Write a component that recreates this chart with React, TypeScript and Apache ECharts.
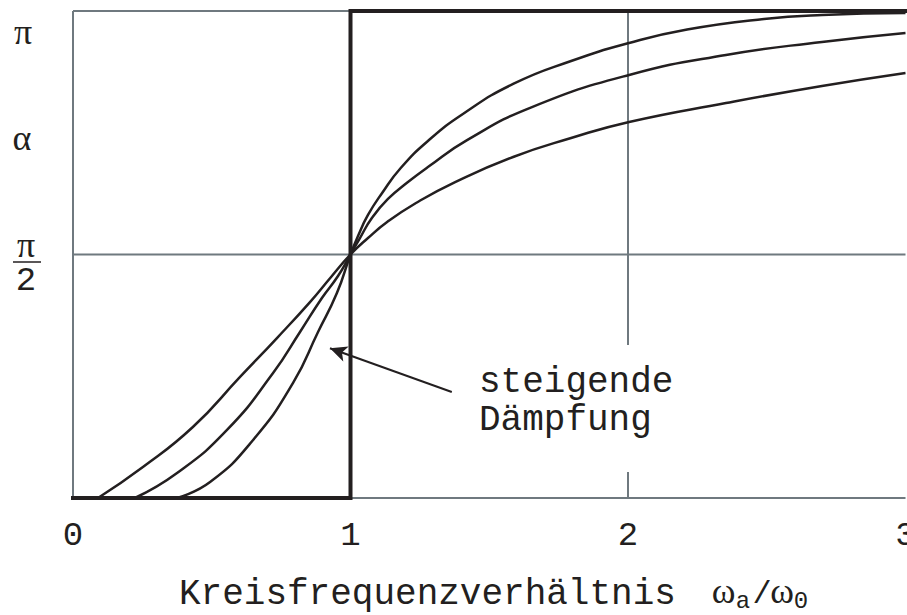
import { useEffect, useRef } from "react";
import * as echarts from "echarts";

const PI = Math.PI;

// Frequency ratio ω_a/ω_0 and phase angle α (rad), weak damping
const weakX = [0.375, 0.494, 0.649, 0.793, 0.883, 0.951, 1, 1.027, 1.063, 1.114, 1.181, 1.279, 1.405, 1.586, 1.795, 2.004, 2.213, 2.49, 2.699, 3.0];
const weakY = [0, 0.103, 0.374, 0.742, 1.071, 1.322, 1.571, 1.69, 1.826, 1.968, 2.129, 2.303, 2.477, 2.671, 2.819, 2.935, 3.022, 3.09, 3.116, 3.129];

// Medium damping
const midX = [0.223, 0.375, 0.555, 0.721, 0.818, 0.897, 0.955, 1, 1.034, 1.077, 1.135, 1.207, 1.279, 1.42, 1.654, 2.004, 2.353, 2.699, 3.0];
const midY = [0, 0.161, 0.439, 0.806, 1.071, 1.29, 1.432, 1.571, 1.677, 1.806, 1.929, 2.038, 2.135, 2.309, 2.522, 2.729, 2.858, 2.942, 3.0];

// Strong damping
const strongX = [0.09, 0.252, 0.432, 0.602, 0.735, 0.854, 0.93, 1, 1.063, 1.132, 1.236, 1.377, 1.586, 1.795, 2.004, 2.353, 2.699, 3.0];
const strongY = [0, 0.2, 0.458, 0.781, 1.032, 1.264, 1.426, 1.571, 1.677, 1.78, 1.903, 2.038, 2.2, 2.322, 2.426, 2.548, 2.658, 2.742];

// Undamped case: phase jumps from 0 to π at resonance
const undampedX = [0, 1, 1, 3];
const undampedY = [0, 0, PI, PI];

// Grid lines and axis range
const gridXValues = [0, 1, 2];
const gridYValues = [0, PI / 2, PI];
const xMin = 0;
const xMax = 3;

// Annotation arrow (data coordinates)
const arrowFrom = [1.365, 0.684];
const arrowTo = [0.926, 0.966];

const INK = "#231f20";
const GRID = "#6f797f";
const MONO = '"Liberation Mono", "Courier New", monospace';
const SERIF = '"Liberation Serif", "Times New Roman", serif';

const zip = (xs: number[], ys: number[]) => xs.map((x, i) => [x, ys[i]]);

export default function App() {
  const ref = useRef<HTMLDivElement>(null);

  useEffect(() => {
    if (!ref.current) return;
    const chart = echarts.init(ref.current, undefined, { renderer: "svg" });

    const gridLine = (data: number[][]) => ({
      type: "line",
      data,
      symbol: "none",
      silent: true,
      clip: false,
      z: 1,
      lineStyle: { color: GRID, width: 2 },
    });

    const gridSeries: any[] = [
      ...gridXValues.map((gx) => gridLine([[gx, 0], [gx, PI]])),
      ...gridYValues.map((gy) => gridLine([[xMin, gy], [xMax, gy]])),
    ];

    const curve = (xs: number[], ys: number[]) => ({
      type: "line",
      data: zip(xs, ys),
      symbol: "none",
      smooth: 0.5,
      silent: true,
      clip: false,
      z: 3,
      lineStyle: { color: INK, width: 2.5 },
    });

    const txt = (
      text: string,
      x: number,
      y: number,
      family: string,
      size: number,
      align = "center"
    ) => ({
      type: "text",
      z: 11,
      x,
      y,
      style: { text, fill: INK, fontFamily: family, fontSize: size, align, verticalAlign: "middle" },
    });

    const option: any = {
      animation: false,
      backgroundColor: "#ffffff",
      grid: {
        left: 73,
        top: 11,
        right: 1.5,
        bottom: 117,
        containLabel: false,
        outerBoundsMode: "none",
      },
      xAxis: {
        type: "value",
        min: xMin,
        max: xMax,
        interval: 1,
        axisLine: { show: false },
        axisTick: { show: false },
        splitLine: { show: false },
        axisLabel: {
          color: INK,
          fontFamily: MONO,
          fontSize: 34,
          margin: 21,
        },
      },
      yAxis: {
        type: "value",
        min: 0,
        max: PI,
        show: false,
        splitLine: { show: false },
      },
      series: [
        ...gridSeries,
        curve(weakX, weakY),
        curve(midX, midY),
        curve(strongX, strongY),
        {
          type: "line",
          data: zip(undampedX, undampedY),
          symbol: "none",
          silent: true,
          clip: false,
          z: 4,
          lineStyle: { color: INK, width: 4, join: "miter", cap: "square" },
        },
        {
          type: "line",
          data: [],
          silent: true,
          z: 5,
          markLine: {
            silent: true,
            symbol: ["none", "arrow"],
            symbolSize: [12, 17],
            label: { show: false },
            lineStyle: { color: INK, width: 2, type: "solid" },
            data: [[{ coord: arrowFrom }, { coord: arrowTo }]],
          },
        },
      ],
      graphic: [
        // white backing behind the annotation text
        {
          type: "rect",
          z: 10,
          shape: { x: 468, y: 345, width: 215, height: 127 },
          style: { fill: "#ffffff" },
        },
        txt("steigende", 479, 382, MONO, 36, "left"),
        txt("Dämpfung", 479, 420.4, MONO, 36, "left"),
        // y-axis symbols
        txt("π", 23, 32, SERIF, 36),
        txt("α", 22, 138, SERIF, 36),
        txt("π", 26, 245, SERIF, 36),
        {
          type: "line",
          z: 11,
          shape: { x1: 13, y1: 262, x2: 41, y2: 262 },
          style: { stroke: INK, lineWidth: 1.5 },
        },
        txt("2", 26, 281, MONO, 34),
        // x-axis title: Kreisfrequenzverhältnis ω_a/ω_0
        txt("Kreisfrequenzverhältnis", 179, 594.4, MONO, 36, "left"),
        txt("ω", 723.5, 591, SERIF, 36),
        txt("a", 743, 601, MONO, 24),
        txt("/", 762, 594.4, MONO, 32),
        txt("ω", 782, 591, SERIF, 36),
        txt("0", 801, 601, MONO, 24),
      ],
    };

    chart.setOption(option);
    return () => chart.dispose();
  }, []);

  return (
    <div
      ref={ref}
      style={{ position: "absolute", left: 0, top: 0, width: 907, height: 615, background: "#fff" }}
    />
  );
}
